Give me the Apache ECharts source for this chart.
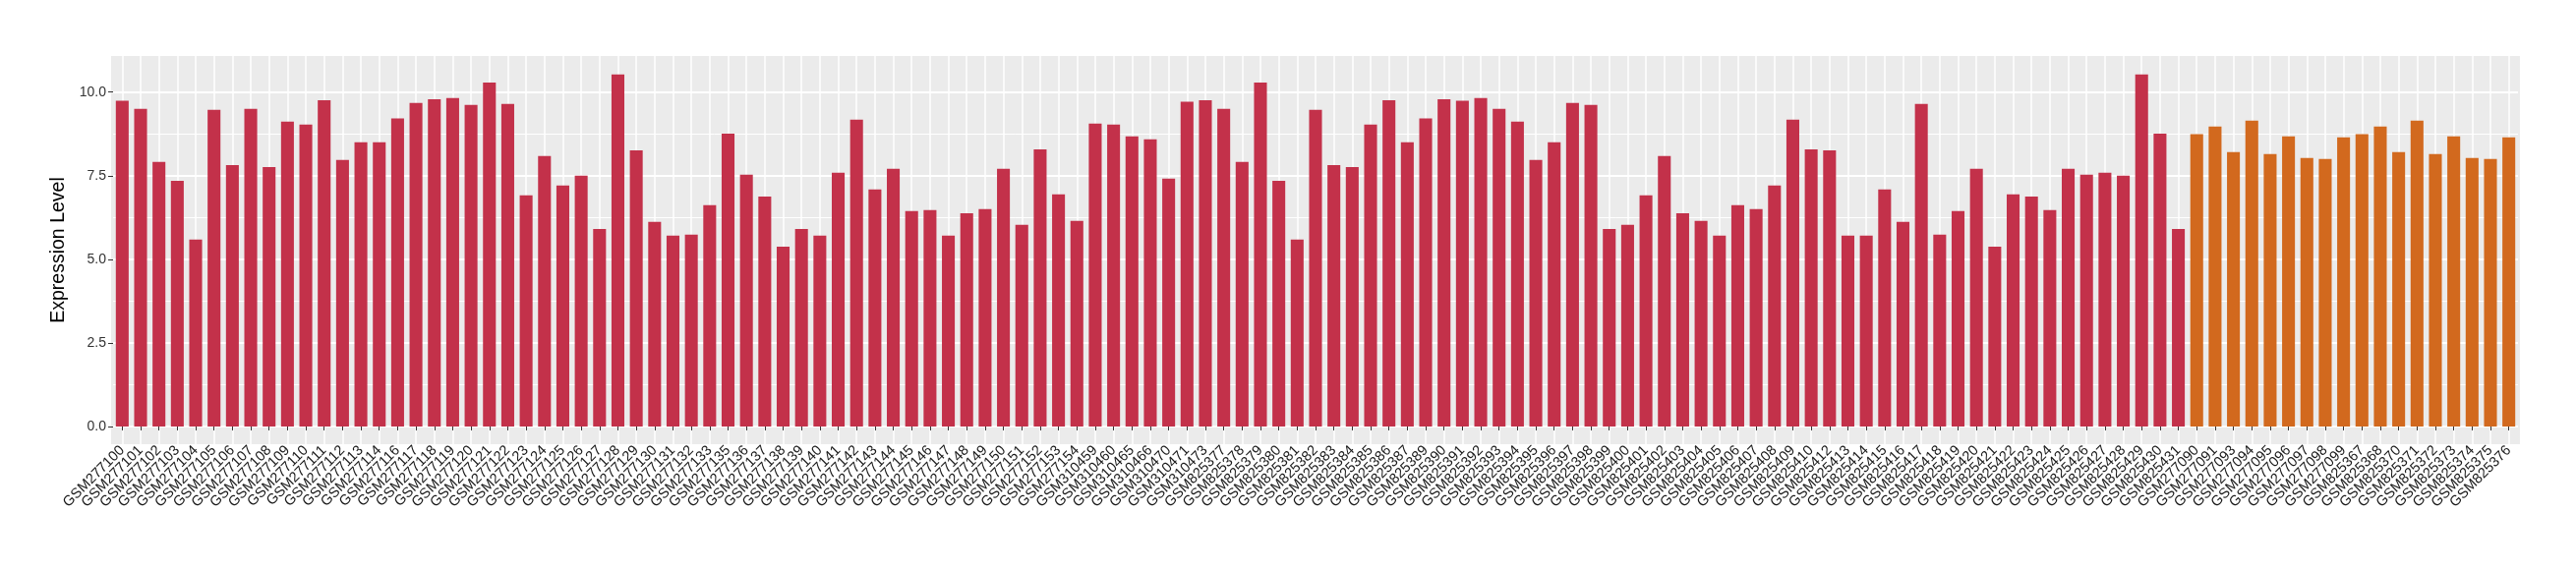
<!DOCTYPE html>
<html>
<head>
<meta charset="utf-8">
<script src="https://cdn.jsdelivr.net/npm/echarts@6/dist/echarts.min.js"></script>
<style>html,body{margin:0;padding:0;background:#fff;}#c{width:2620px;height:580px;}</style>
</head>
<body>
<div id="c"></div>
<script>
const redCategories = [
 "GSM277100","GSM277101","GSM277102","GSM277103","GSM277104","GSM277105","GSM277106","GSM277107","GSM277108","GSM277109",
 "GSM277110","GSM277111","GSM277112","GSM277113","GSM277114","GSM277116","GSM277117","GSM277118","GSM277119","GSM277120",
 "GSM277121","GSM277122","GSM277123","GSM277124","GSM277125","GSM277126","GSM277127","GSM277128","GSM277129","GSM277130",
 "GSM277131","GSM277132","GSM277133","GSM277135","GSM277136","GSM277137","GSM277138","GSM277139","GSM277140","GSM277141",
 "GSM277142","GSM277143","GSM277144","GSM277145","GSM277146","GSM277147","GSM277148","GSM277149","GSM277150","GSM277151",
 "GSM277152","GSM277153","GSM277154","GSM310459","GSM310460","GSM310465","GSM310466","GSM310470","GSM310471","GSM310473",
 "GSM825377","GSM825378","GSM825379","GSM825380","GSM825381","GSM825382","GSM825383","GSM825384","GSM825385","GSM825386",
 "GSM825387","GSM825389","GSM825390","GSM825391","GSM825392","GSM825393","GSM825394","GSM825395","GSM825396","GSM825397",
 "GSM825398","GSM825399","GSM825400","GSM825401","GSM825402","GSM825403","GSM825404","GSM825405","GSM825406","GSM825407",
 "GSM825408","GSM825409","GSM825410","GSM825412","GSM825413","GSM825414","GSM825415","GSM825416","GSM825417","GSM825418",
 "GSM825419","GSM825420","GSM825421","GSM825422","GSM825423","GSM825424","GSM825425","GSM825426","GSM825427","GSM825428",
 "GSM825429","GSM825430","GSM825431"
];
const redValues = [
 9.74,9.50,7.91,7.35,5.59,9.47,7.82,9.50,7.76,9.12,
 9.03,9.76,7.97,8.50,8.50,9.21,9.68,9.79,9.82,9.62,
 10.29,9.65,6.91,8.09,7.21,7.50,5.91,10.53,8.26,6.12,
 5.71,5.74,6.62,8.76,7.53,6.88,5.38,5.91,5.71,7.59,
 9.18,7.09,7.71,6.44,6.47,5.71,6.38,6.50,7.71,6.03,
 8.29,6.94,6.15,9.06,9.03,8.68,8.59,7.41,9.71,9.76,
 9.50,7.91,10.29,7.35,5.59,9.47,7.82,7.76,9.03,9.76,
 8.50,9.21,9.79,9.74,9.82,9.50,9.12,7.97,8.50,9.68,
 9.62,5.91,6.03,6.91,8.09,6.38,6.15,5.71,6.62,6.50,
 7.21,9.18,8.29,8.26,5.71,5.71,7.09,6.12,9.65,5.74,
 6.44,7.71,5.38,6.94,6.88,6.47,7.71,7.53,7.59,7.50,
 10.53,8.76,5.91
];
const orangeCategories = [
 "GSM277090","GSM277091","GSM277093","GSM277094","GSM277095","GSM277096","GSM277097","GSM277098","GSM277099",
 "GSM825367","GSM825368","GSM825370","GSM825371","GSM825372","GSM825373","GSM825374","GSM825375","GSM825376"
];
const orangeValues = [8.74,8.97,8.21,9.15,8.15,8.68,8.03,8.00,8.65,8.74,8.97,8.21,9.15,8.15,8.68,8.03,8.00,8.65];
const yTicks = [0, 2.5, 5, 7.5, 10];
const yMinorTicks = [1.25, 3.75, 6.25, 8.75];
const yTitle = "Expression Level";

const categories = redCategories.concat(orangeCategories);
const redSeries = redValues.concat(orangeValues.map(() => null));
const orangeSeries = redValues.map(() => null).concat(orangeValues);

const FONT = "'Liberation Sans', Arial, Helvetica, sans-serif";
const chart = echarts.init(document.getElementById('c'), null, {renderer: 'canvas'});
const PANEL = '#EBEBEB';
chart.setOption({
  animation: false,
  backgroundColor: '#ffffff',
  graphic: [{type: 'rect', z: -100, silent: true, shape: {x: 113, y: 57, width: 2450, height: 395}, style: {fill: PANEL}}],
  grid: {left: 115, right: 59, top: 57, bottom: 128, show: true, backgroundColor: PANEL, borderWidth: 0},
  xAxis: {
    type: 'category',
    data: categories,
    boundaryGap: true,
    axisLine: {show: false},
    axisTick: {show: true, alignWithLabel: true, length: 4, lineStyle: {color: '#333333', width: 1}},
    axisLabel: {rotate: 45, interval: 0, margin: 4, color: '#1a1a1a', fontSize: 14.5, fontFamily: FONT},
    splitLine: {show: true, alignWithLabel: true, interval: 0, lineStyle: {color: '#ffffff', width: 1.5}}
  },
  yAxis: [{
    type: 'value',
    min: -0.53, max: 11.08,
    name: yTitle, nameLocation: 'middle', nameGap: 35,
    nameTextStyle: {fontSize: 19.5, color: '#000000', fontFamily: FONT},
    axisLine: {show: false},
    axisTick: {show: true, length: 5, customValues: yTicks, lineStyle: {color: '#333333'}},
    axisLabel: {customValues: yTicks, margin: 7, color: '#333333', fontSize: 14, fontFamily: FONT,
                formatter: v => Number(v).toFixed(1)},
    splitLine: {show: true, lineStyle: {color: '#ffffff', width: 2}}
  }, {
    type: 'value',
    min: -0.53, max: 11.08,
    position: 'left',
    axisLine: {show: false},
    axisTick: {show: false, customValues: yMinorTicks},
    axisLabel: {show: false, customValues: yMinorTicks},
    splitLine: {show: true, lineStyle: {color: '#ffffff', width: 1}}
  }],
  series: [{
    name: 'group1', type: 'bar', data: redSeries, stack: 'all', barWidth: '70%',
    itemStyle: {color: '#C3314A'}
  }, {
    name: 'group2', type: 'bar', data: orangeSeries, stack: 'all', barWidth: '70%',
    itemStyle: {color: '#D2691E'}
  }]
});
</script>
</body>
</html>
